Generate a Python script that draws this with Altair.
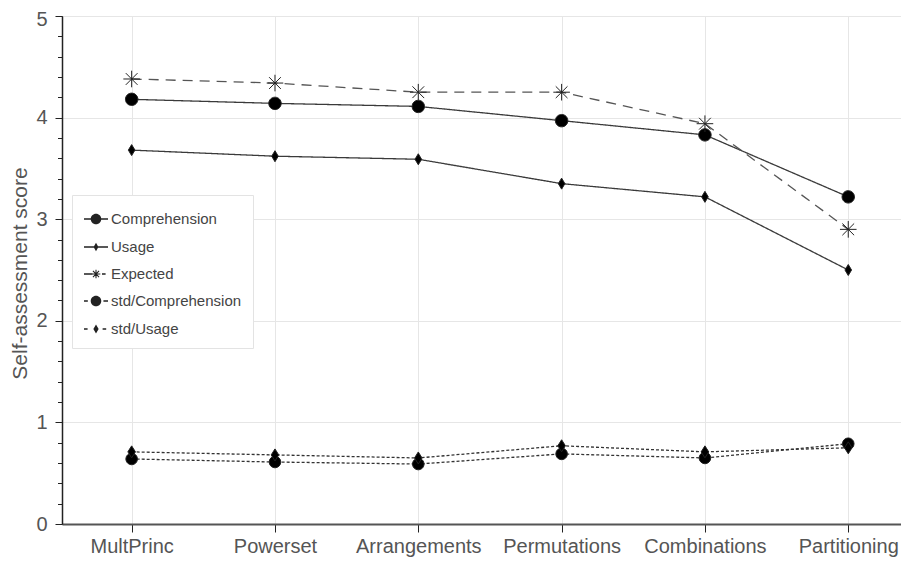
import math
import altair as alt
import pandas as pd

# ---- data ----
categories = ["MultPrinc", "Powerset", "Arrangements", "Permutations", "Combinations", "Partitioning"]
series_names = ["Comprehension", "Usage", "Expected", "std/Comprehension", "std/Usage"]
comprehension = [4.18, 4.14, 4.11, 3.97, 3.83, 3.22]
usage = [3.68, 3.62, 3.59, 3.35, 3.22, 2.50]
expected = [4.38, 4.34, 4.25, 4.25, 3.94, 2.90]
std_comprehension = [0.64, 0.61, 0.59, 0.69, 0.65, 0.79]
std_usage = [0.71, 0.68, 0.65, 0.77, 0.71, 0.75]

y_major = [0, 1, 2, 3, 4, 5]
y_minor = [0, 0.2, 0.4, 0.6, 0.8, 1, 1.2, 1.4, 1.6, 1.8, 2, 2.2, 2.4, 2.6, 2.8,
           3, 3.2, 3.4, 3.6, 3.8, 4, 4.2, 4.4, 4.6, 4.8, 5]
x_ticks = [0, 1, 2, 3, 4, 5]

all_series = [comprehension, usage, expected, std_comprehension, std_usage]
rows = []
for i, cat in enumerate(categories):
    for name, vals in zip(series_names, all_series):
        rows.append({"idx": i, "category": cat, "series": name, "value": vals[i]})
df = pd.DataFrame(rows)

# ---- symbol shapes ----
def circ(r):
    return f"M{-r},0A{r},{r} 0 1,1 {r},0A{r},{r} 0 1,1 {-r},0Z"

def diamond(w, h):
    return f"M0,{-h}L{w},0L0,{h}L{-w},0Z"

def star(r):
    a = round(r * 0.7071, 3)
    return f"M0,{-r}L0,{r}M{-r},0L{r},0M{-a},{-a}L{a},{a}M{-a},{a}L{a},{-a}"

def bar(x1, y1, x2, y2, t):
    # thin filled rectangle (clockwise on screen) standing in for a stroked segment
    L = math.hypot(x2 - x1, y2 - y1)
    dx, dy = (x2 - x1) / L, (y2 - y1) / L
    nx, ny = -dy * t / 2, dx * t / 2
    pts = [(x1 - nx, y1 - ny), (x2 - nx, y2 - ny), (x2 + nx, y2 + ny), (x1 + nx, y1 + ny)]
    return "M" + "L".join(f"{round(px, 3)},{round(py, 3)}" for px, py in pts) + "Z"

def star_filled(r, t):
    a = r * 0.7071
    return (bar(0, -r, 0, r, t) + bar(-r, 0, r, 0, t) +
            bar(-a, -a, a, a, t) + bar(-a, a, a, -a, t))

T = 0.11
marker_shapes = [circ(0.62), diamond(0.33, 0.55), star(0.83), circ(0.58), diamond(0.38, 0.6)]
legend_shapes = [
    bar(-1, 0, 1, 0, T) + circ(0.44),
    bar(-1, 0, 1, 0, T) + diamond(0.2, 0.36),
    bar(-1, 0, -0.3, 0, T) + star_filled(0.36, 0.09) + bar(0.5, 0, 0.8, 0, T),
    bar(-1, 0, -0.68, 0, T) + circ(0.44) + bar(0.62, 0, 1, 0, T),
    bar(-1, 0, -0.7, 0, T) + diamond(0.22, 0.38) + bar(0.55, 0, 0.85, 0, T),
]
line_colors = ["#3a3a3a", "#3a3a3a", "#555555", "#333333", "#333333"]
line_dashes = [[1, 0], [1, 0], [10, 7], [3, 2], [3, 2]]

FONT = "Liberation Sans"
label_expr = "[" + ",".join(f"'{c}'" for c in categories) + "][datum.value]"

x_enc = alt.X(
    "idx:Q",
    scale=alt.Scale(domain=[-0.486, 5.368], nice=False, zero=False),
    axis=alt.Axis(
        values=x_ticks, labelExpr=label_expr, title=None,
        tickSize=8, tickColor="#222222", tickWidth=1,
        domainColor="#555555", domainWidth=2,
        grid=True, gridColor="#e6e6e6", gridWidth=1,
        labelFont=FONT, labelFontSize=20, labelColor="#555555", labelPadding=4,
    ),
)

y_scale = alt.Scale(domain=[0, 5], nice=False, zero=True)

lines = alt.Chart().mark_line(strokeWidth=1.3).encode(
    x=x_enc,
    y=alt.Y(
        "value:Q", scale=y_scale,
        axis=alt.Axis(
            orient="left", values=y_major, format="d",
            tickSize=7, tickColor="#222222", tickWidth=1,
            domainColor="#222222", domainWidth=1.5,
            grid=True, gridColor="#e6e6e6", gridWidth=1,
            labelFont=FONT, labelFontSize=20, labelColor="#555555", labelPadding=8,
            labelOffset={"condition": {"test": "datum.value == 5", "value": 3}, "value": 0},
            title="Self-assessment score", titleFont=FONT, titleFontSize=21,
            titleFontWeight="normal", titleColor="#555555",
            titleX=-42, titleY=257, titleAngle=270, titleAlign="center", titleBaseline="middle",
        ),
    ),
    color=alt.Color("series:N", scale=alt.Scale(domain=series_names, range=line_colors), legend=None),
    strokeDash=alt.StrokeDash("series:N", scale=alt.Scale(domain=series_names, range=line_dashes), legend=None),
    detail="series:N",
)

markers = alt.Chart().mark_point(
    filled=True, fill="black", stroke="#222222", strokeWidth=1, size=400, opacity=1
).encode(
    x=x_enc,
    y=alt.Y("value:Q", scale=y_scale, axis=None),
    shape=alt.Shape("series:N", scale=alt.Scale(domain=series_names, range=marker_shapes), legend=None),
)

legend_layer = alt.Chart().mark_point(
    filled=True, fill="#222222", opacity=0
).encode(
    x=x_enc,
    y=alt.Y(
        "value:Q", scale=y_scale,
        axis=alt.Axis(
            orient="left", values=y_minor, labels=False, grid=False, domain=False,
            tickSize=4.5, tickColor="#222222", tickWidth=1, title=None,
        ),
    ),
    shape=alt.Shape(
        "series:N",
        scale=alt.Scale(domain=series_names, range=legend_shapes),
        sort=series_names,
        legend=alt.Legend(
            title=None, orient="none", legendX=10, legendY=179, direction="vertical",
            symbolSize=576, symbolOpacity=1, symbolFillColor="#222222",
            labelFont=FONT, labelFontSize=15, labelColor="#444444", labelOffset=2,
            rowPadding=6, padding=11, fillColor="white", strokeColor="#e3e3e3",
            cornerRadius=0,
        ),
    ),
)

chart = (
    alt.layer(lines, markers, legend_layer, data=df)
    .resolve_scale(shape="independent")
    .resolve_axis(y="independent")
    .properties(
        width=839, height=508,
        autosize=alt.AutoSizeParams(type="none"),
        padding={"left": 54, "top": 8, "right": 0, "bottom": 33},
        background="white",
    )
    .configure_view(stroke=None)
)

chart.save("out.html", embed_options={"renderer": "svg", "actions": False})
